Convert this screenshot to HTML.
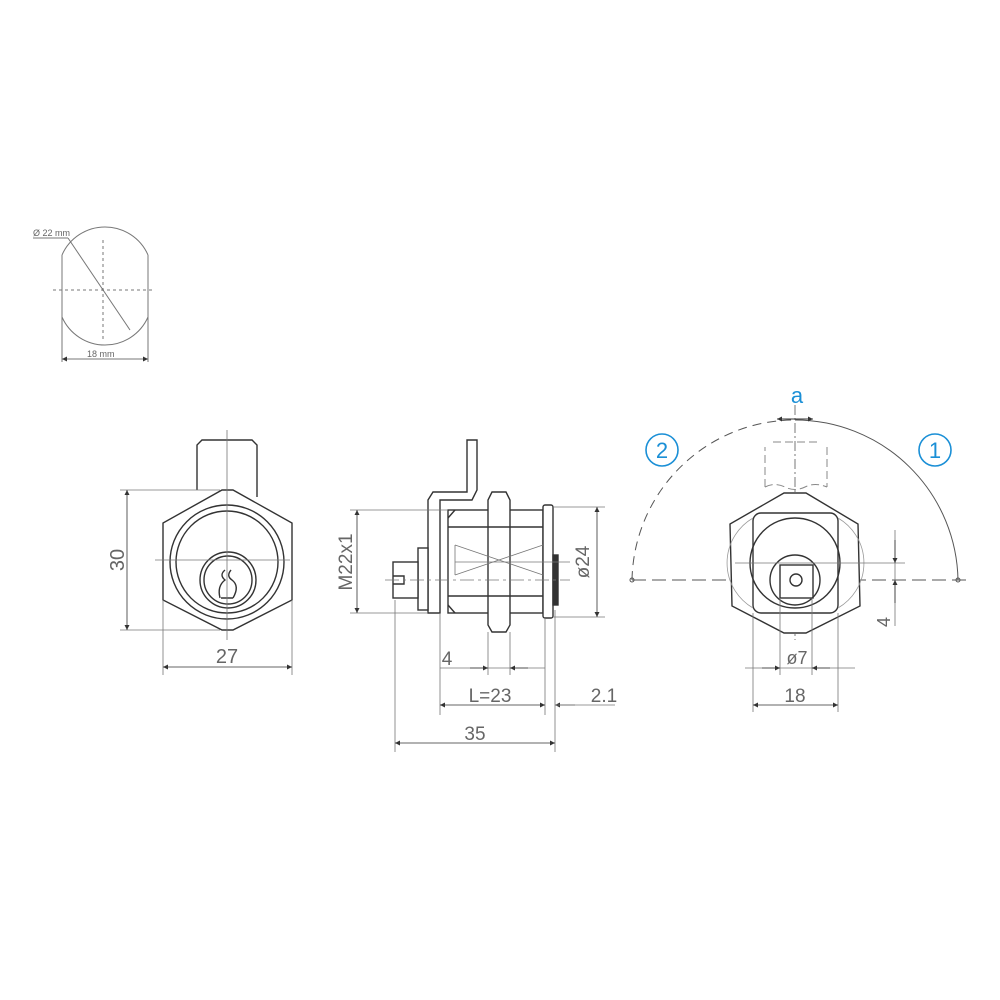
<!DOCTYPE html>
<html><head><meta charset="utf-8"><style>
html,body{margin:0;padding:0;background:#fff;width:1000px;height:1000px;overflow:hidden}
svg{display:block}
text{font-family:"Liberation Sans",sans-serif;fill:#666}
</style></head><body>
<svg width="1000" height="1000" viewBox="0 0 1000 1000" xmlns="http://www.w3.org/2000/svg">
<defs>
<marker id="ar" viewBox="0 0 10 10" refX="10" refY="5" markerWidth="8" markerHeight="5" orient="auto-start-reverse" markerUnits="userSpaceOnUse"><path d="M0,0 L10,5 L0,10z" fill="#333"/></marker>
</defs>
<!-- top-left small sketch -->
<g stroke="#777" fill="none" stroke-width="1">
<path d="M62,255 A47,47 0 0 1 148,255 M62,317 A47,47 0 0 0 148,317"/>
<line x1="62" y1="255" x2="62" y2="362"/><line x1="148" y1="255" x2="148" y2="362"/>
<line x1="53" y1="290" x2="155" y2="290" stroke-dasharray="3,3"/>
<line x1="103" y1="240" x2="103" y2="340" stroke-dasharray="3,3"/>
<line x1="33" y1="238" x2="68" y2="238"/><line x1="68" y1="238" x2="130" y2="330"/>
<line x1="62" y1="359" x2="148" y2="359" marker-start="url(#ar)" marker-end="url(#ar)"/>
</g>
<text x="33" y="236" font-size="9" fill="#444">Ø 22 mm</text>
<text x="87" y="357" font-size="9" fill="#444">18 mm</text>

<!-- front view -->
<g stroke="#333" fill="none" stroke-width="1.4">
<path d="M197,490 L197,445 L202,440 L252,440 L257,445 L257,497"/>
<path d="M222,490 L233,490 L292,523 L292,600 L233,630 L222,630 L163,600 L163,523 Z" fill="#fff"/>
<circle cx="227" cy="562" r="57"/><circle cx="227" cy="562" r="51"/>
<circle cx="228" cy="580" r="28"/><circle cx="228" cy="580" r="24"/>
<path d="M225,570 q-6,5 0,10 q-8,6 -5,18 M231,570 q-5,6 1,10 q8,6 1,18 M221,598 l12,0"/>
</g>
<g stroke="#777" stroke-width="0.8" fill="none">
<line x1="227" y1="430" x2="227" y2="640"/>
<line x1="155" y1="560" x2="290" y2="560"/>
<line x1="120" y1="490" x2="220" y2="490"/><line x1="120" y1="630" x2="220" y2="630"/>
<line x1="127" y1="490" x2="127" y2="630" marker-start="url(#ar)" marker-end="url(#ar)" stroke="#333"/>
<line x1="163" y1="600" x2="163" y2="675"/><line x1="292" y1="600" x2="292" y2="675"/>
<line x1="163" y1="667" x2="292" y2="667" marker-start="url(#ar)" marker-end="url(#ar)" stroke="#333"/>
</g>
<text x="0" y="0" font-size="20" transform="translate(124,560) rotate(-90)" text-anchor="middle">30</text>
<text x="227" y="663" font-size="20" text-anchor="middle">27</text>

<!-- side view -->
<g stroke="#333" fill="none" stroke-width="1.4">
<path d="M467,440 L477,440 L477,490 L472,500 L440,500 L440,613 L428,613 L428,500 L433,492 L467,492 Z" fill="#fff"/>
<rect x="448" y="510" width="95" height="103" fill="#fff"/>
<path d="M448,518 L455,510 M448,605 L455,613"/>
<line x1="448" y1="527" x2="543" y2="527"/><line x1="448" y1="596" x2="543" y2="596"/>
<path d="M492,492 L506,492 L510,500 L510,625 L506,632 L492,632 L488,625 L488,500 Z" fill="#fff"/>
<line x1="488" y1="527" x2="510" y2="527"/><line x1="488" y1="596" x2="510" y2="596"/>
<rect x="543" y="505" width="10" height="113" rx="2" fill="#fff"/>
<rect x="553" y="555" width="5" height="50" fill="#333"/>
<rect x="418" y="548" width="10" height="62" fill="#fff"/>
<rect x="393" y="562" width="25" height="36" fill="#fff"/>
<path d="M393,576 L404,576 L404,584 L393,584"/>
</g>
<g stroke="#777" stroke-width="0.8" fill="none">
<path d="M455,545 L543,575 M455,575 L543,545 M455,545 L455,575" />
<line x1="385" y1="580" x2="570" y2="580" stroke-dasharray="14,4,3,4"/>
<line x1="455" y1="562" x2="570" y2="562"/>
<line x1="350" y1="510" x2="448" y2="510"/><line x1="350" y1="613" x2="428" y2="613"/>
<line x1="357" y1="510" x2="357" y2="613" marker-start="url(#ar)" marker-end="url(#ar)" stroke="#333"/>
<line x1="553" y1="507" x2="605" y2="507"/><line x1="553" y1="617" x2="605" y2="617"/>
<line x1="597" y1="507" x2="597" y2="617" marker-start="url(#ar)" marker-end="url(#ar)" stroke="#333"/>
<line x1="395" y1="600" x2="395" y2="752"/><line x1="440" y1="613" x2="440" y2="715"/>
<line x1="488" y1="632" x2="488" y2="675"/><line x1="510" y1="632" x2="510" y2="675"/>
<line x1="545" y1="618" x2="545" y2="715"/><line x1="555" y1="610" x2="555" y2="752"/>
<line x1="440" y1="668" x2="545" y2="668"/>
<line x1="470" y1="668" x2="488" y2="668" marker-end="url(#ar)" stroke="#333"/>
<line x1="528" y1="668" x2="510" y2="668" marker-end="url(#ar)" stroke="#333"/>
<line x1="440" y1="705" x2="545" y2="705" marker-start="url(#ar)" marker-end="url(#ar)" stroke="#333"/>
<line x1="575" y1="705" x2="555" y2="705" marker-end="url(#ar)" stroke="#333"/>
<line x1="555" y1="705" x2="615" y2="705"/>
<line x1="395" y1="743" x2="555" y2="743" marker-start="url(#ar)" marker-end="url(#ar)" stroke="#333"/>
</g>
<text font-size="19" transform="translate(352,562) rotate(-90)" text-anchor="middle">M22x1</text>
<text font-size="19" transform="translate(589,562) rotate(-90)" text-anchor="middle">ø24</text>
<text x="447" y="665" font-size="19" text-anchor="middle">4</text>
<text x="490" y="702" font-size="19" text-anchor="middle">L=23</text>
<text x="604" y="702" font-size="19" text-anchor="middle">2.1</text>
<text x="475" y="740" font-size="19" text-anchor="middle">35</text>

<!-- right view -->
<g fill="none" stroke-width="1">
<path d="M632,580 A163,163 0 0 1 795,420" stroke="#555" stroke-dasharray="9,6"/>
<path d="M795,420 A163,163 0 0 1 958,580" stroke="#555"/>
<line x1="632" y1="580" x2="968" y2="580" stroke="#555" stroke-dasharray="14,6"/>
<circle cx="632" cy="580" r="2" stroke="#555"/><circle cx="958" cy="580" r="2" stroke="#555"/>
<line x1="795" y1="405" x2="795" y2="640" stroke="#777" stroke-dasharray="10,3,2,3"/>
<path d="M765,487 L765,447 M773,442 L820,442 M827,447 L827,487 M765,487 q10,-5 20,0 q10,5 20,0 q10,-5 22,0" stroke="#888" stroke-dasharray="8,4"/>
</g>
<line x1="777" y1="419" x2="813" y2="419" stroke="#333" stroke-width="1" marker-start="url(#ar)" marker-end="url(#ar)"/>
<g fill="none" stroke="#1a8fd6" stroke-width="1.6">
<circle cx="662" cy="450" r="16"/><circle cx="935" cy="450" r="16"/>
</g>
<text x="662" y="458" font-size="22" text-anchor="middle" style="fill:#1a8fd6">2</text>
<text x="935" y="458" font-size="22" text-anchor="middle" style="fill:#1a8fd6">1</text>
<text x="797" y="403" font-size="22" text-anchor="middle" style="fill:#1a8fd6">a</text>
<g stroke="#333" fill="none" stroke-width="1.4">
<path d="M784,493 L806,493 L858,524 L860,606 L806,633 L784,633 L732,606 L730,524 Z" fill="#fff"/>
<rect x="753" y="513" width="85" height="100" rx="8"/>
<circle cx="795" cy="563" r="45"/>
<circle cx="795" cy="580" r="25"/>
<rect x="780" y="565" width="33" height="33"/>
<circle cx="796" cy="580" r="6"/>
</g>
<g stroke="#777" stroke-width="0.8" fill="none">
<path d="M753,518 A52,52 0 0 0 753,608 M838,518 A52,52 0 0 1 838,608" stroke="#999"/>
<line x1="735" y1="563" x2="905" y2="563"/>
<line x1="895" y1="530" x2="895" y2="626"/>
<line x1="895" y1="540" x2="895" y2="563" marker-end="url(#ar)" stroke="#333"/>
<line x1="895" y1="603" x2="895" y2="580" marker-end="url(#ar)" stroke="#333"/>
<line x1="753" y1="613" x2="753" y2="712"/><line x1="838" y1="613" x2="838" y2="712"/>
<line x1="780" y1="598" x2="780" y2="675"/><line x1="812" y1="598" x2="812" y2="675"/>
<line x1="745" y1="668" x2="855" y2="668"/>
<line x1="762" y1="668" x2="780" y2="668" marker-end="url(#ar)" stroke="#333"/>
<line x1="830" y1="668" x2="812" y2="668" marker-end="url(#ar)" stroke="#333"/>
<line x1="753" y1="705" x2="838" y2="705" marker-start="url(#ar)" marker-end="url(#ar)" stroke="#333"/>
</g>
<text font-size="18" transform="translate(890,622) rotate(-90)" text-anchor="middle">4</text>
<text x="797" y="664" font-size="18" text-anchor="middle">ø7</text>
<text x="795" y="702" font-size="19" text-anchor="middle">18</text>
</svg>
</body></html>
